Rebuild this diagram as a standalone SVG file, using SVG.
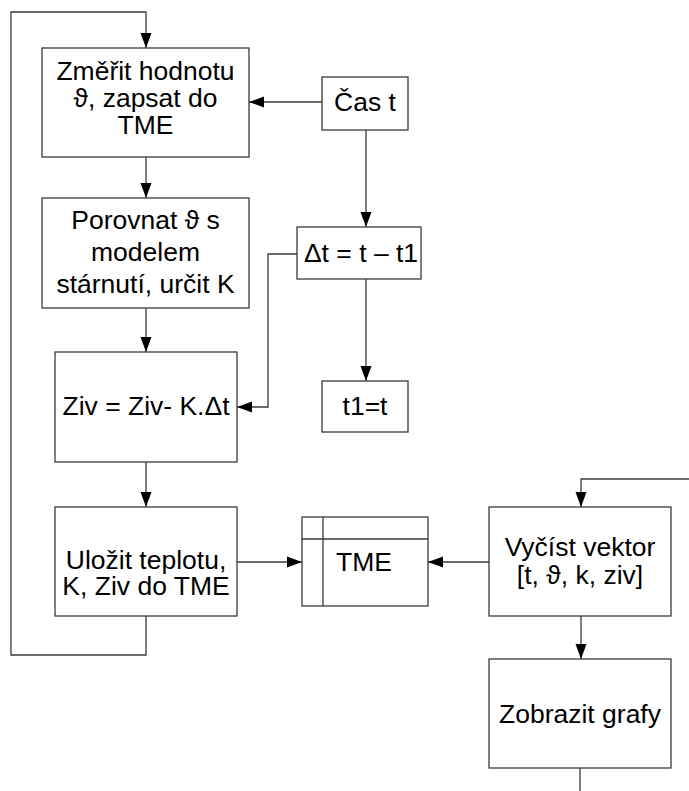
<svg xmlns="http://www.w3.org/2000/svg" width="689" height="791" viewBox="0 0 689 791">
<style>
.box{fill:#fff;stroke:#3a3a3a;stroke-width:1.3}
.ln{fill:none;stroke:#3a3a3a;stroke-width:1.3}
.t{font-family:"Liberation Sans",Arial,sans-serif;font-size:25px;fill:#000;text-anchor:middle}
</style>
<defs>
<marker id="ah" markerUnits="userSpaceOnUse" markerWidth="16" markerHeight="12" viewBox="0 0 16 12" refX="15" refY="6" orient="auto">
<path d="M0,0.5 L15,6 L0,11.5 Z" fill="#000"/>
</marker>
</defs>
<rect width="689" height="791" fill="#fff"/>
<g id="connectors">
<path class="ln" d="M146,616 V655 H11 V12 H146 V48" marker-end="url(#ah)"/>
<path class="ln" d="M146,157 V198" marker-end="url(#ah)"/>
<path class="ln" d="M322,102 H249" marker-end="url(#ah)"/>
<path class="ln" d="M366,130 V227" marker-end="url(#ah)"/>
<path class="ln" d="M297,254 H268 V407 H237" marker-end="url(#ah)"/>
<path class="ln" d="M146,308 V352" marker-end="url(#ah)"/>
<path class="ln" d="M366,279 V381" marker-end="url(#ah)"/>
<path class="ln" d="M146,462 V507" marker-end="url(#ah)"/>
<path class="ln" d="M237,562 H302" marker-end="url(#ah)"/>
<path class="ln" d="M489,562 H428" marker-end="url(#ah)"/>
<path class="ln" d="M689,479 H581 V507" marker-end="url(#ah)"/>
<path class="ln" d="M581,616 V659" marker-end="url(#ah)"/>
<path class="ln" d="M580,768 V791"/>
</g>
<g id="n_zmerit">
<rect class="box" x="42" y="48" width="207" height="109"/>
<text class="t" transform="translate(145.5,0) scale(1.06,1)"><tspan x="0" y="80">Změřit hodnotu</tspan><tspan x="0" y="107">ϑ, zapsat do</tspan><tspan x="0" y="134">TME</tspan></text>
</g>
<g id="n_cas">
<rect class="box" x="322" y="77" width="86" height="53"/>
<text class="t" transform="translate(365,0) scale(1.06,1)" x="0" y="111">Čas t</text>
</g>
<g id="n_porovnat">
<rect class="box" x="42" y="198" width="207" height="110"/>
<text class="t" transform="translate(145.5,0) scale(1.06,1)"><tspan x="0" y="229">Porovnat ϑ s</tspan><tspan x="0" y="261">modelem</tspan><tspan x="0" y="293">stárnutí, určit K</tspan></text>
</g>
<g id="n_dt">
<rect class="box" x="297" y="227" width="124" height="52"/>
<text class="t" transform="translate(361,0) scale(1.06,1)" x="0" y="262">Δt = t – t1</text>
</g>
<g id="n_ziv">
<rect class="box" x="55" y="352" width="182" height="110"/>
<text class="t" transform="translate(146,0) scale(1.06,1)" x="0" y="415">Ziv = Ziv- K.Δt</text>
</g>
<g id="n_t1">
<rect class="box" x="322" y="381" width="86" height="51"/>
<text class="t" transform="translate(365,0) scale(1.06,1)" x="0" y="415">t1=t</text>
</g>
<g id="n_ulozit">
<rect class="box" x="55" y="507" width="182" height="109"/>
<text class="t" transform="translate(146,0) scale(1.06,1)"><tspan x="0" y="569">Uložit teplotu,</tspan><tspan x="0" y="595">K, Ziv do TME</tspan></text>
</g>
<g id="n_tme">
<rect class="box" x="302" y="517" width="126" height="89"/>
<path class="ln" d="M323,517 V606 M302,539 H428"/>
<text class="t" transform="translate(364,0) scale(1.06,1)" x="0" y="571">TME</text>
</g>
<g id="n_vycist">
<rect class="box" x="489" y="507" width="182" height="109"/>
<text class="t" transform="translate(580,0) scale(1.06,1)"><tspan x="0" y="556">Vyčíst vektor</tspan><tspan x="0" y="584">[t, ϑ, k, ziv]</tspan></text>
</g>
<g id="n_zobrazit">
<rect class="box" x="489" y="659" width="182" height="109"/>
<text class="t" transform="translate(580,0) scale(1.06,1)" x="0" y="723">Zobrazit grafy</text>
</g>
</svg>
